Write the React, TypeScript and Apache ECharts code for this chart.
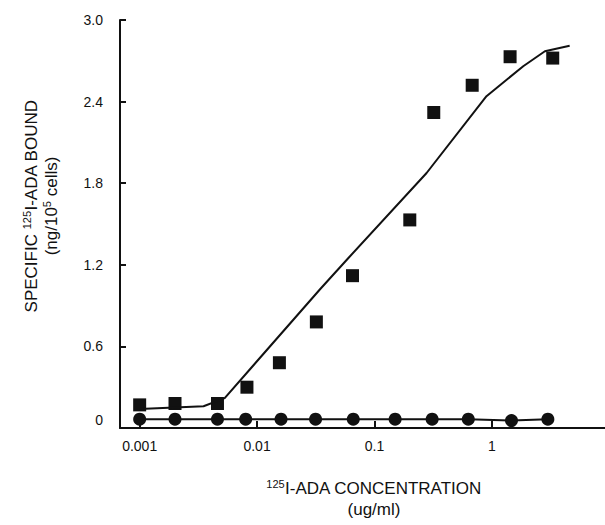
import React, { useEffect, useRef } from "react";
import * as echarts from "echarts";

// Squares (specific binding) — concentration (ug/ml) and bound (ng/10^5 cells)
const squareConc = [0.001, 0.002, 0.0046, 0.0082, 0.0155, 0.032, 0.065, 0.2, 0.32, 0.68, 1.43, 3.3];
const squareBound = [0.17, 0.18, 0.18, 0.3, 0.48, 0.78, 1.12, 1.53, 2.32, 2.52, 2.73, 2.72];

// Circles (control)
const circleConc = [0.001, 0.002, 0.0046, 0.008, 0.016, 0.0315, 0.066, 0.15, 0.31, 0.63, 1.47, 3.0];
const circleBound = [0.065, 0.065, 0.065, 0.065, 0.065, 0.065, 0.065, 0.065, 0.065, 0.065, 0.055, 0.065];

// Fitted curve through the squares
const fitConc = [0.001, 0.0035, 0.0053, 0.0344, 0.06, 0.278, 0.9, 1.85, 2.83, 4.6];
const fitBound = [0.14, 0.16, 0.22, 1.02, 1.25, 1.875, 2.44, 2.66, 2.77, 2.81];

const yTicks = [0, 0.6, 1.2, 1.8, 2.4, 3.0];

const FONT = "'Liberation Sans', Arial, Helvetica, sans-serif";
const INK = "#111";

export default function App() {
  const ref = useRef<HTMLDivElement>(null);
  useEffect(() => {
    document.body.style.margin = "0";
    const chart = echarts.init(ref.current!, null, { renderer: "svg" });
    const pairs = (xs: number[], ys: number[]) => xs.map((x, i) => [x, ys[i]]);
    const richY = {
      n: { fontSize: 17, lineHeight: 20, fontFamily: FONT, color: INK },
      s: { fontSize: 11, lineHeight: 12, verticalAlign: "top", fontFamily: FONT, color: INK },
    };
    const richX = {
      n: { fontSize: 17, lineHeight: 21, fontFamily: FONT, color: INK },
      s: { fontSize: 11, lineHeight: 12, verticalAlign: "top", fontFamily: FONT, color: INK },
    };
    chart.setOption({
      animation: false,
      backgroundColor: "#fff",
      grid: { left: 120, right: 0, top: 20, bottom: 97 },
      xAxis: {
        type: "log",
        logBase: 10,
        min: 0.00068,
        max: 9.2,
        axisLine: { lineStyle: { color: INK, width: 2 } },
        axisTick: { inside: true, length: 7, lineStyle: { color: INK, width: 2 } },
        splitLine: { show: false },
        axisLabel: {
          color: INK,
          fontFamily: FONT,
          fontSize: 14,
          margin: 11,
          showMinLabel: false,
          showMaxLabel: false,
          formatter: (v: number) => {
            const l = Math.log10(v);
            if (Math.abs(l - Math.round(l)) > 1e-6) return "";
            return String(Number(Math.pow(10, Math.round(l)).toPrecision(1)));
          },
        },
      },
      yAxis: {
        type: "value",
        min: 0,
        max: 3,
        interval: 0.6,
        axisLine: { show: true, lineStyle: { color: INK, width: 2 } },
        axisTick: { show: true, inside: true, length: 6, lineStyle: { color: INK, width: 2 } },
        splitLine: { show: false },
        axisLabel: {
          color: INK,
          fontFamily: FONT,
          fontSize: 14,
          margin: 17,
          rich: { z: { fontFamily: FONT, fontSize: 14, color: INK, padding: [0, 0, 16, 0] } },
          formatter: (v: number) => {
            const t = yTicks.find((y) => Math.abs(y - v) < 1e-6);
            if (t === undefined) return "";
            return t === 0 ? "{z|0}" : t.toFixed(1);
          },
        },
      },
      graphic: [
        {
          type: "text",
          x: 41,
          y: 206,
          rotation: Math.PI / 2,
          style: {
            text: "{n|SPECIFIC }{s|125}{n|I-ADA BOUND}\n{n|(ng/10}{s|5}{n| cells)}",
            rich: richY,
            align: "center",
            verticalAlign: "middle",
            fill: INK,
          },
        },
        {
          type: "text",
          x: 374,
          y: 499,
          style: {
            text: "{s|125}{n|I-ADA CONCENTRATION}\n{n|(ug/ml)}",
            rich: richX,
            align: "center",
            verticalAlign: "middle",
            fill: INK,
          },
        },
      ],
      series: [
        {
          name: "fit",
          type: "line",
          data: pairs(fitConc, fitBound),
          showSymbol: false,
          symbol: "none",
          lineStyle: { color: INK, width: 2 },
          silent: true,
        },
        {
          name: "specific",
          type: "scatter",
          data: pairs(squareConc, squareBound),
          symbol: "rect",
          symbolSize: 13,
          itemStyle: { color: INK, opacity: 1 },
        },
        {
          name: "control",
          type: "line",
          data: pairs(circleConc, circleBound),
          symbol: "circle",
          symbolSize: 13,
          showAllSymbol: true,
          itemStyle: { color: INK, borderWidth: 0, opacity: 1 },
          lineStyle: { color: INK, width: 2 },
        },
      ],
    });
    return () => chart.dispose();
  }, []);
  return <div ref={ref} style={{ width: 605, height: 525, position: "fixed", left: 0, top: 0 }} />;
}
